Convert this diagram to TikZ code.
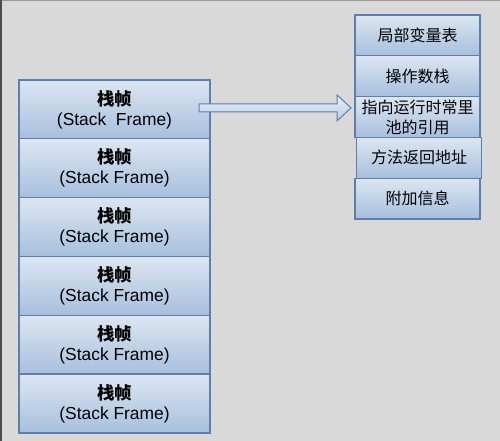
\documentclass[tikz,border=0pt]{standalone}
\usepackage{fontspec}
\setmainfont{Liberation Sans}
\newfontfamily\cjk{Noto Sans CJK SC}
\usetikzlibrary{positioning,calc}
\definecolor{cBg}{HTML}{D9D9D9}
\definecolor{cEdge}{HTML}{5B7FAF}
\definecolor{cTop}{HTML}{DCE6F2}
\definecolor{cBot}{HTML}{A7BFDD}

\tikzset{
  frame/.style={draw=cEdge,line width=1.3pt,top color=cTop,bottom color=cBot,
    minimum width=191pt,minimum height=58.8pt,inner sep=0,outer sep=0,
    align=center,font=\fontsize{17.4}{20}\selectfont},
  part/.style={draw=cEdge,line width=1.3pt,top color=cTop,bottom color=cBot,
    minimum width=125pt,minimum height=40.8pt,inner sep=0,outer sep=0,
    align=center,font=\cjk\fontsize{16}{20}\selectfont},
  fatarrow/.style={draw=cEdge,line width=1pt,top color=cTop!60!white,bottom color=cBot!80!white}
}

\begin{document}
\begin{tikzpicture}[x=1pt,y=-1pt]
  \fill[cBg] (0,0) rectangle (500,441);
  \useasboundingbox (0,0) rectangle (500,441);
  \draw[gray!80,line width=1pt] (0,0.5) -- (500,0.5);
  \draw[black!70,line width=2pt] (1,0) -- (1,441);

  % stack of frames
  \foreach \i in {1,...,6}
    \node[frame] (frame\i) at (114.5,{80+58.83*(\i-.5)})
      {{\cjk\bfseries 栈帧}\\(Stack\ifnum\i=1\ \fi\ Frame)};

  % contents of one frame
  \node[part] (locals) at (417.5,35.4) {局部变量表};
  \node[part,below=0pt of locals] (opstack) {操作数栈};
  \node[part,below=0pt of opstack] (cpref) {指向运行时常里\\池的引用};
  \node[part,below=0pt of cpref,xshift=1.5pt] (retaddr) {方法返回地址};
  \node[part,below=0pt of retaddr,xshift=-1.5pt] (extra) {附加信息};

  % hollow arrow
  \coordinate (aS) at ($(frame1.east)+(-11,-1.5)$);
  \coordinate (aE) at ($(cpref.west|-aS)+(-4,0)$);
  \draw[fatarrow] ($(aS)+(0,-4)$) -- ($(aE)+(-14,-4)$) -- ($(aE)+(-14,-13)$)
    -- (aE) -- ($(aE)+(-14,13)$) -- ($(aE)+(-14,4)$) -- ($(aS)+(0,4)$) -- cycle;
\end{tikzpicture}
\end{document}
